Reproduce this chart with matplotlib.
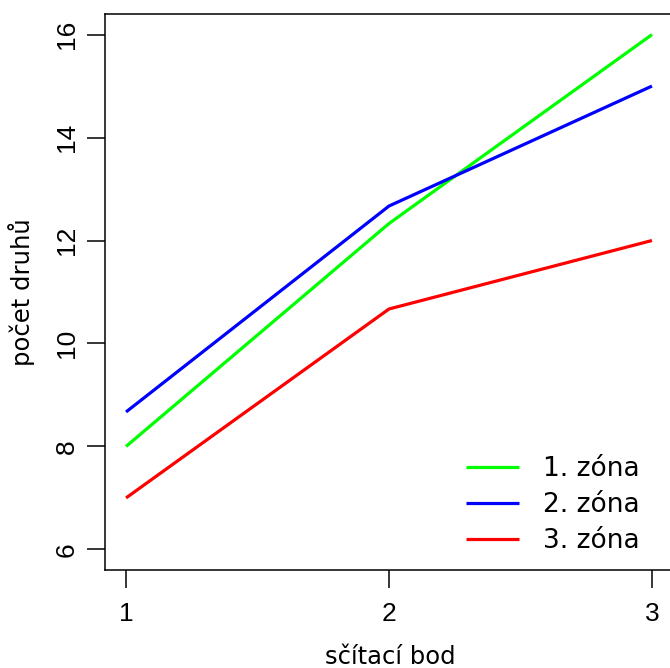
import matplotlib
matplotlib.use("Agg")
import matplotlib.pyplot as plt

points = [1, 2, 3]
zona1 = [8.0, 12.33, 16.0]
zona2 = [8.67, 12.67, 15.0]
zona3 = [7.0, 10.67, 12.0]
labels = ["1. zóna", "2. zóna", "3. zóna"]
colors = ["#00ff00", "#0000ff", "#ff0000"]
yticks = [6, 8, 10, 12, 14, 16]

fig = plt.figure(figsize=(6.7, 6.68), dpi=100)
ax = fig.add_axes([105/670, 98/668, 568/670, 556/668])
for vals, lab, c in zip([zona1, zona2, zona3], labels, colors):
    ax.plot(points, vals, color=c, lw=2.3, label=lab, solid_capstyle="butt")

ax.set_xlim(0.92, 3.08)
ax.set_ylim(5.6, 16.4)
ax.set_xticks(points)
ax.set_yticks(yticks)
tickfont = dict(family="Liberation Sans", size=19)
ax.set_xticklabels([str(p) for p in points], **tickfont)
ax.set_yticklabels([str(t) for t in yticks], rotation=90, va="center", **tickfont)
ax.tick_params(axis="both", length=13, width=1.1, direction="out")
ax.tick_params(axis="x", pad=10)
ax.tick_params(axis="y", pad=6)
for s in ax.spines.values():
    s.set_linewidth(1.1)

labfont = dict(family="DejaVu Sans", size=17.5)
fig.text(390/670, 1-657/668, "sčítací bod", ha="center", va="center", **labfont)
fig.text(22/670, 1-292/668, "počet druhů", ha="center", va="center", rotation=90, **labfont)

leg = ax.legend(loc="upper left", frameon=False, prop=dict(family="DejaVu Sans", size=19),
                handlelength=2.0, handletextpad=0.9, labelspacing=0.38,
                bbox_to_anchor=((466 - 105) / 568, (570 - 456) / 556), borderaxespad=0.0,
                borderpad=0.0)

fig.savefig("out.png", dpi=100)
